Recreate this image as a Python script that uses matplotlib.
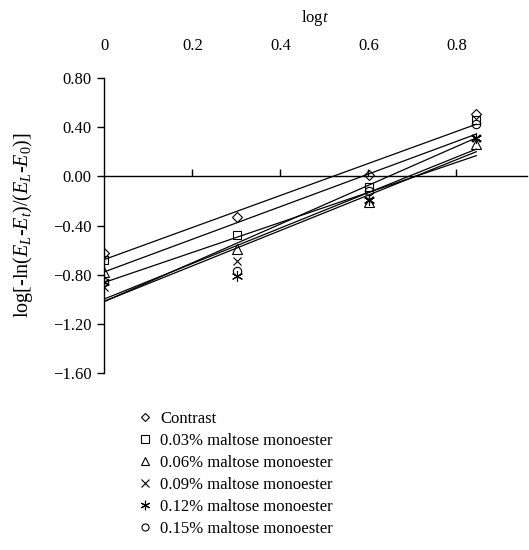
import numpy as np
import matplotlib
matplotlib.use("Agg")
import matplotlib.pyplot as plt

# log t values (t = 1, 2, 4, 7)
log_t = [0, 0.301, 0.602, 0.845]

labels = ["Contrast",
          "0.03% maltose monoester",
          "0.06% maltose monoester",
          "0.09% maltose monoester",
          "0.12% maltose monoester",
          "0.15% maltose monoester"]

contrast = [-0.62, -0.33, 0.01, 0.51]
m003 = [-0.68, -0.48, -0.09, 0.46]
m006 = [-0.78, -0.59, -0.21, 0.26]
m009 = [-0.90, -0.69, -0.19, 0.31]
m012 = [-0.86, -0.81, -0.19, 0.31]
m015 = [-0.86, -0.77, -0.12, 0.43]

series = [contrast, m003, m006, m009, m012, m015]
markers = ["D", "s", "^", "x", (6, 2, 0), "o"]
sizes = [5, 6, 7, 6, 8, 6]

plt.rcParams['font.family'] = ['Liberation Serif', 'DejaVu Serif']
plt.rcParams['mathtext.fontset'] = 'custom'
plt.rcParams['mathtext.rm'] = 'Liberation Serif'
plt.rcParams['mathtext.it'] = 'Liberation Serif:italic'

fig = plt.figure(figsize=(5.29, 5.5), dpi=100)
ax = fig.add_axes([0.197, 0.322, 0.799, 0.536])

x = np.array(log_t)
handles = []
for y, mk, ms, lab in zip(series, markers, sizes, labels):
    # linear trend line for each series
    slope, icpt = np.polyfit(x, y, 1)
    ax.plot([x[0], x[-1]], [icpt + slope * x[0], icpt + slope * x[-1]],
            color='black', lw=0.9)
    h, = ax.plot(x, y, linestyle='none', marker=mk, markersize=ms,
                 markerfacecolor='none', markeredgecolor='black',
                 markeredgewidth=0.8, label=lab)
    handles.append(h)

ax.set_xlim(0, 0.96)
ax.set_ylim(-1.6, 0.8)

# x axis drawn through y = 0, labels on top
ax.spines['right'].set_visible(False)
ax.spines['top'].set_visible(False)
ax.spines['bottom'].set_position(('data', 0))
ax.spines['bottom'].set_linewidth(1.0)
ax.spines['left'].set_linewidth(1.0)
ax.set_xticks([0.2, 0.4, 0.6, 0.8])
ax.tick_params(axis='x', direction='in', length=5, width=1, labelbottom=False)

yt = [0.8, 0.4, 0.0, -0.4, -0.8, -1.2, -1.6]
ax.set_yticks(yt)
ax.set_yticklabels(["{:.2f}".format(v).replace("-", "\u2212") for v in yt])
ax.tick_params(axis='y', direction='out', length=5, width=1, labelsize=12, pad=4)

sec = ax.secondary_xaxis('top')
sec.set_xticks([0, 0.2, 0.4, 0.6, 0.8])
sec.set_xticklabels(["0", "0.2", "0.4", "0.6", "0.8"])
sec.tick_params(length=0, labelsize=12, pad=17)
sec.spines['top'].set_visible(False)
sec.set_xlabel(r"log$\it{t}$", fontsize=12, labelpad=12)

ax.set_ylabel(r"log[-ln($E_L$-$E_t$)/($E_L$-$E_0$)]", fontsize=14.5, labelpad=13)

leg = fig.legend(handles=handles, loc='upper left', bbox_to_anchor=(0.245, 0.268),
                 frameon=False, fontsize=12, handlelength=0.8, handletextpad=0.55,
                 labelspacing=0.36, borderpad=0, markerscale=0.85)

fig.savefig("out.png", dpi=100)
